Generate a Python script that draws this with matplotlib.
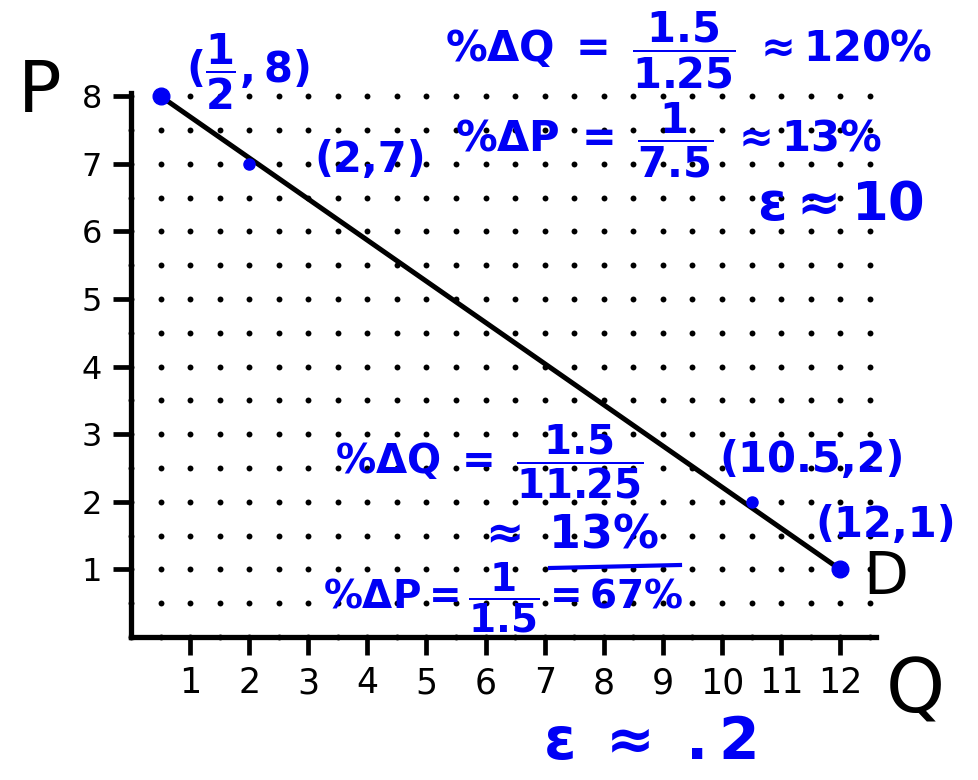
import matplotlib

matplotlib.use("Agg")
import matplotlib.pyplot as plt
import numpy as np

# Demand curve points (Q, P)
q_pts = [0.5, 2, 10.5, 12]
p_pts = [8, 7, 2, 1]
pt_labels = [r"$(\dfrac{1}{2},8)$", "(2,7)", "(10.5,2)", "(12,1)"]
big_pts = [True, False, False, True]

# demand line end points
line_q = [0.5, 12]
line_p = [8, 1]

x_ticks = [1, 2, 3, 4, 5, 6, 7, 8, 9, 10, 11, 12]
y_ticks = [1, 2, 3, 4, 5, 6, 7, 8]

W, H = 979, 780
BLUE = "#0000f5"

plt.rcParams["mathtext.fontset"] = "dejavusans"
plt.rcParams["mathtext.default"] = "bf"


def px(x, y):
    return x / W, 1 - y / H


fig = plt.figure(figsize=(W / 100, H / 100), dpi=100)
fig.patch.set_facecolor("white")

# Q=0 at x=131, 59.1 px/unit ; P=0 at y=637, 67.6 px/unit
xmax, ymax = 12.6, 8.05
x0, y0 = 131, 637
ax = fig.add_axes([x0 / W, (H - y0) / H, xmax * 59.1 / W, ymax * 67.6 / H])
ax.set_xlim(0, xmax)
ax.set_ylim(0, ymax)

# dot-grid paper
gq, gp = np.meshgrid(np.arange(0, 12.51, 0.5), np.arange(0, 8.01, 0.5))
ax.scatter(gq.ravel(), gp.ravel(), s=18, c="black", lw=0, zorder=1, clip_on=False)

for s in ["top", "right"]:
    ax.spines[s].set_visible(False)
for s in ["left", "bottom"]:
    ax.spines[s].set_linewidth(3.8)
    ax.spines[s].set_zorder(2)

ax.set_xticks(x_ticks)
ax.set_yticks(y_ticks)
ax.set_xticklabels([str(v) for v in x_ticks], fontsize=25)
ax.set_yticklabels([str(v) for v in y_ticks], fontsize=23)
ax.tick_params(axis="both", direction="out", length=13, width=3.4, pad=8)

# demand curve
ax.plot(line_q, line_p, color="black", lw=3.6, zorder=3, solid_capstyle="round")
for q, p, big in zip(q_pts, p_pts, big_pts):
    ax.plot(q, p, "o", color=BLUE, ms=12 if big else 8, zorder=4, clip_on=False)

# axis letters
fig.text(*px(40, 92), "P", fontsize=52, ha="center", va="center")
fig.text(*px(915, 692), "Q", fontsize=54, ha="center", va="center")
fig.text(*px(886, 578), "D", fontsize=42, ha="center", va="center")

# point labels
lab_pos = [(248, 72), (370, 160), (812, 460), (886, 525)]
for (x, y), lab in zip(lab_pos, pt_labels):
    fig.text(*px(x, y), lab, fontsize=30, color=BLUE, ha="center", va="center",
             fontweight="bold")

# elasticity notes, top (upper segment)
fig.text(*px(445, 50), r"$\%\Delta Q\ =\ \dfrac{1.5}{1.25}\ \approx 120\%$",
         fontsize=30, color=BLUE, ha="left", va="center")
fig.text(*px(455, 140), r"$\%\Delta P\ =\ \dfrac{1}{7.5}\ \approx 13\%$",
         fontsize=30, color=BLUE, ha="left", va="center")
fig.text(*px(840, 205), r"$\epsilon \approx 10$",
         fontsize=38, color=BLUE, ha="center", va="center")

# elasticity notes, bottom (lower segment)
fig.text(*px(335, 462), r"$\%\Delta Q\ =\ \dfrac{1.5}{11.25}$",
         fontsize=29, color=BLUE, ha="left", va="center")
fig.text(*px(568, 535), r"$\approx\ 13\%$",
         fontsize=33, color=BLUE, ha="center", va="center")
fig.add_artist(plt.Line2D([550 / W, 680 / W], [1 - 568 / H, 1 - 565 / H],
                          color=BLUE, lw=3))
fig.text(*px(323, 598), r"$\%\Delta P = \dfrac{1}{1.5} = 67\%$",
         fontsize=28, color=BLUE, ha="left", va="center")
fig.text(*px(650, 742), r"$\epsilon\ \approx\ .2$",
         fontsize=42, color=BLUE, ha="center", va="center")

fig.savefig("out.png", dpi=100, facecolor="white")
